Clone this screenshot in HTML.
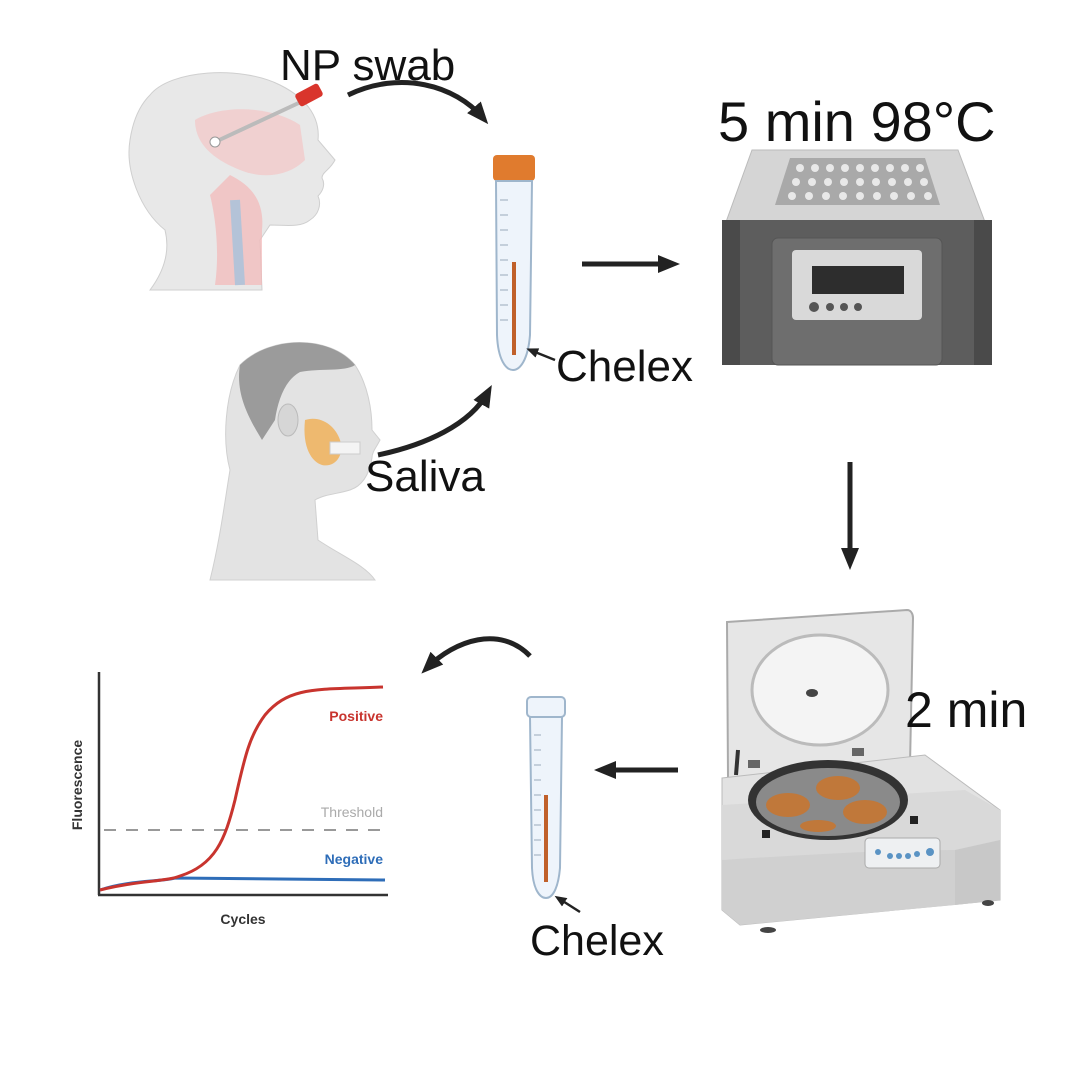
<!DOCTYPE html>
<html><head><meta charset="utf-8"><style>
html,body{margin:0;padding:0;background:#fff}
svg{display:block}
text{font-family:"Liberation Sans",Arial,sans-serif}
</style></head><body>
<svg width="1070" height="1070" viewBox="0 0 1070 1070" xmlns="http://www.w3.org/2000/svg">
<defs>
<marker id="ah" markerWidth="22" markerHeight="22" refX="14" refY="11" orient="auto" markerUnits="userSpaceOnUse" viewBox="0 0 22 22">
<path d="M0,2 L22,11 L0,20 z" fill="#222"/></marker>
<marker id="ahs" markerWidth="12" markerHeight="12" refX="8" refY="6" orient="auto" markerUnits="userSpaceOnUse" viewBox="0 0 12 12">
<path d="M0,1 L12,6 L0,11 z" fill="#222"/></marker>
</defs>
<rect width="1070" height="1070" fill="#fff"/>

<!-- Head 1 (NP swab) -->
<g>
<path d="M150,95 C170,70 240,65 280,85 C310,100 320,120 318,140 L335,160 C330,170 322,172 322,178 C326,185 322,192 318,196 C322,205 318,215 310,220 C300,228 285,225 270,225 L260,240 L262,290 L150,290 C165,270 170,250 165,230 C140,210 125,170 130,140 C133,120 140,105 150,95 Z" fill="#e8e8e8" stroke="#cfcfcf"/>
<path d="M195,120 C220,105 270,105 300,125 L305,160 C290,175 265,180 240,170 C215,160 195,145 195,120 Z" fill="#f1c9c9" opacity="0.8"/>
<path d="M230,175 C250,185 265,200 262,230 L262,285 L215,285 C220,250 215,215 210,195 Z" fill="#f3b8b8" opacity="0.7"/>
<path d="M235,200 L240,285" stroke="#9cc3e0" stroke-width="10" opacity="0.7"/>
<line x1="215" y1="142" x2="305" y2="100" stroke="#bbb" stroke-width="4"/>
<rect x="296" y="88" width="26" height="14" rx="3" transform="rotate(-28 309 95)" fill="#d9352c"/>
<circle cx="215" cy="142" r="5" fill="#fff" stroke="#999"/>
</g>
<text x="280" y="80" font-size="44" fill="#111">NP swab</text>

<path d="M348,95 C400,70 455,85 483,118" fill="none" stroke="#222" stroke-width="5" marker-end="url(#ah)"/>

<!-- Tube 1 -->
<g>
<rect x="493" y="155" width="42" height="26" rx="4" fill="#e07b2e"/>
<path d="M496,181 L532,181 L530,335 C528,360 520,370 513,370 C506,370 498,360 497,335 Z" fill="#eef4fb" stroke="#9fb6cc" stroke-width="2"/>
<line x1="514" y1="262" x2="514" y2="355" stroke="#c0602a" stroke-width="4"/>
<g stroke="#9ab" stroke-width="1">
<line x1="500" y1="200" x2="508" y2="200"/><line x1="500" y1="215" x2="508" y2="215"/><line x1="500" y1="230" x2="508" y2="230"/><line x1="500" y1="245" x2="508" y2="245"/><line x1="500" y1="260" x2="508" y2="260"/><line x1="500" y1="275" x2="508" y2="275"/><line x1="500" y1="290" x2="508" y2="290"/><line x1="500" y1="305" x2="508" y2="305"/><line x1="500" y1="320" x2="508" y2="320"/></g>
</g>
<path d="M555,360 L530,350" stroke="#222" stroke-width="2.5" marker-end="url(#ahs)"/>
<text x="556" y="381" font-size="44" fill="#111">Chelex</text>

<line x1="582" y1="264" x2="672" y2="264" stroke="#222" stroke-width="5" marker-end="url(#ah)"/>

<!-- Heat block -->
<text x="718" y="141" font-size="56" fill="#111">5 min 98°C</text>
<g>
<path d="M752,150 L958,150 L985,222 L726,222 Z" fill="#d5d5d5" stroke="#bbb"/>
<path d="M790,158 L925,158 L940,205 L775,205 Z" fill="#a9a9a9"/>
<g fill="#e8e8e8">
<circle cx="800" cy="168" r="4"/><circle cx="815" cy="168" r="4"/><circle cx="830" cy="168" r="4"/><circle cx="845" cy="168" r="4"/><circle cx="860" cy="168" r="4"/><circle cx="875" cy="168" r="4"/><circle cx="890" cy="168" r="4"/><circle cx="905" cy="168" r="4"/><circle cx="920" cy="168" r="4"/>
<circle cx="796" cy="182" r="4"/><circle cx="812" cy="182" r="4"/><circle cx="828" cy="182" r="4"/><circle cx="844" cy="182" r="4"/><circle cx="860" cy="182" r="4"/><circle cx="876" cy="182" r="4"/><circle cx="892" cy="182" r="4"/><circle cx="908" cy="182" r="4"/><circle cx="924" cy="182" r="4"/>
<circle cx="792" cy="196" r="4"/><circle cx="809" cy="196" r="4"/><circle cx="826" cy="196" r="4"/><circle cx="843" cy="196" r="4"/><circle cx="860" cy="196" r="4"/><circle cx="877" cy="196" r="4"/><circle cx="894" cy="196" r="4"/><circle cx="911" cy="196" r="4"/><circle cx="928" cy="196" r="4"/></g>
<rect x="722" y="220" width="270" height="145" rx="6" fill="#5d5d5d"/>
<rect x="722" y="220" width="18" height="145" fill="#4a4a4a"/>
<rect x="974" y="220" width="18" height="145" fill="#4a4a4a"/>
<rect x="772" y="238" width="170" height="127" rx="6" fill="#6e6e6e" stroke="#555"/>
<rect x="792" y="250" width="130" height="70" rx="4" fill="#d9d9d9"/>
<rect x="812" y="266" width="92" height="28" fill="#2d2d2d"/>
<circle cx="814" cy="307" r="5" fill="#555"/><circle cx="830" cy="307" r="4" fill="#555"/><circle cx="844" cy="307" r="4" fill="#555"/><circle cx="858" cy="307" r="4" fill="#555"/>
</g>

<!-- Head 2 (Saliva) -->
<g>
<path d="M240,365 C270,335 330,335 355,365 C368,385 372,410 372,430 L380,440 C376,448 372,452 372,458 C370,470 365,485 350,490 C338,494 325,494 315,500 L318,540 C340,555 365,565 375,580 L210,580 C220,540 225,500 230,470 C222,440 225,395 240,365 Z" fill="#e3e3e3" stroke="#d0d0d0"/>
<path d="M240,365 C270,335 330,335 355,365 C345,372 320,368 300,372 C285,380 278,400 275,420 L262,440 C250,420 235,395 240,365 Z" fill="#9b9b9b"/>
<ellipse cx="288" cy="420" rx="10" ry="16" fill="#d6d6d6" stroke="#bbb"/>
<path d="M305,420 C320,415 335,425 340,440 C345,455 335,468 322,465 C312,462 302,448 305,420 Z" fill="#f0b15a" opacity="0.85"/>
<rect x="330" y="442" width="30" height="12" fill="#f4f4f4" stroke="#ccc"/>
</g>
<text x="365" y="491" font-size="44" fill="#111">Saliva</text>
<path d="M378,455 C425,445 470,425 488,392" fill="none" stroke="#222" stroke-width="5" marker-end="url(#ah)"/>

<line x1="850" y1="462" x2="850" y2="562" stroke="#222" stroke-width="5" marker-end="url(#ah)"/>

<!-- Centrifuge -->
<g>
<path d="M727,622 L907,610 C911,610 913,614 913,618 L910,765 L728,778 Z" fill="#e6e6e6" stroke="#aaa" stroke-width="2"/>
<ellipse cx="820" cy="690" rx="68" ry="55" fill="#f4f4f4" stroke="#bbb" stroke-width="3"/>
<ellipse cx="812" cy="693" rx="6" ry="4" fill="#444"/>
<path d="M722,778 L925,755 L1000,810 L1000,900 L740,925 L722,910 Z" fill="#e2e2e2" stroke="#bbb"/>
<path d="M722,805 L965,790 L1000,810 L1000,900 L955,905 L955,850 L722,860 Z" fill="#d9d9d9"/>
<path d="M722,860 C800,855 880,850 955,850 L955,905 L740,925 L722,910 Z" fill="#d0d0d0"/>
<path d="M955,850 L1000,840 L1000,900 L955,905 Z" fill="#c8c8c8"/>
<ellipse cx="828" cy="800" rx="80" ry="40" fill="#333"/>
<ellipse cx="828" cy="802" rx="72" ry="34" fill="#8a8a8a"/>
<g fill="#c0783a">
<ellipse cx="788" cy="805" rx="22" ry="12"/><ellipse cx="838" cy="788" rx="22" ry="12"/><ellipse cx="865" cy="812" rx="22" ry="12"/><ellipse cx="818" cy="826" rx="18" ry="6"/></g>
<rect x="762" y="830" width="8" height="8" fill="#222"/>
<rect x="910" y="816" width="8" height="8" fill="#222"/>
<rect x="865" y="838" width="75" height="30" rx="4" fill="#eef0f2" stroke="#aaa"/>
<g fill="#5a93c4"><circle cx="878" cy="852" r="3"/><circle cx="890" cy="856" r="3"/><circle cx="899" cy="856" r="3"/><circle cx="908" cy="856" r="3"/><circle cx="917" cy="854" r="3"/><circle cx="930" cy="852" r="4"/></g>
<line x1="738" y1="750" x2="736" y2="775" stroke="#333" stroke-width="4"/>
<rect x="748" y="760" width="12" height="8" fill="#666"/><rect x="852" y="748" width="12" height="8" fill="#666"/>
<ellipse cx="768" cy="930" rx="8" ry="3" fill="#444"/><ellipse cx="988" cy="903" rx="6" ry="3" fill="#444"/>
</g>
<text x="905" y="727" font-size="50" fill="#111">2 min</text>

<line x1="678" y1="770" x2="602" y2="770" stroke="#222" stroke-width="5" marker-end="url(#ah)"/>

<!-- Tube 2 -->
<g>
<rect x="527" y="697" width="38" height="20" rx="4" fill="#eef4fb" stroke="#9fb6cc" stroke-width="2"/>
<path d="M530,717 L562,717 L560,868 C558,890 552,898 546,898 C540,898 533,890 532,868 Z" fill="#eef4fb" stroke="#9fb6cc" stroke-width="2"/>
<line x1="546" y1="795" x2="546" y2="882" stroke="#c0602a" stroke-width="4"/>
<g stroke="#9ab" stroke-width="1">
<line x1="534" y1="735" x2="541" y2="735"/><line x1="534" y1="750" x2="541" y2="750"/><line x1="534" y1="765" x2="541" y2="765"/><line x1="534" y1="780" x2="541" y2="780"/><line x1="534" y1="795" x2="541" y2="795"/><line x1="534" y1="810" x2="541" y2="810"/><line x1="534" y1="825" x2="541" y2="825"/><line x1="534" y1="840" x2="541" y2="840"/><line x1="534" y1="855" x2="541" y2="855"/></g>
</g>
<path d="M580,912 L558,898" stroke="#222" stroke-width="2.5" marker-end="url(#ahs)"/>
<text x="530" y="955" font-size="43" fill="#111">Chelex</text>

<path d="M530,656 C500,625 455,640 427,668" fill="none" stroke="#222" stroke-width="5" marker-end="url(#ah)"/>

<!-- Chart -->
<g>
<line x1="99" y1="672" x2="99" y2="895" stroke="#333" stroke-width="2.5"/>
<line x1="98" y1="895" x2="388" y2="895" stroke="#333" stroke-width="2.5"/>
<line x1="104" y1="830" x2="385" y2="830" stroke="#999" stroke-width="2" stroke-dasharray="12,10"/>
<path d="M100,890 C130,880 160,882 175,878 L385,880" fill="none" stroke="#2e6db8" stroke-width="3"/>
<path d="M100,890 C140,880 165,882 180,876 C215,865 225,840 235,800 C245,755 250,735 265,715 C290,685 320,690 383,687" fill="none" stroke="#c8342e" stroke-width="3"/>
<text x="383" y="721" font-size="14" font-weight="bold" fill="#c8342e" text-anchor="end">Positive</text>
<text x="383" y="817" font-size="14" fill="#aaa" text-anchor="end">Threshold</text>
<text x="383" y="864" font-size="14" font-weight="bold" fill="#2e6db8" text-anchor="end">Negative</text>
<text x="243" y="924" font-size="14" font-weight="bold" fill="#333" text-anchor="middle">Cycles</text>
<text x="0" y="0" font-size="14" font-weight="bold" fill="#333" text-anchor="middle" transform="translate(82,785) rotate(-90)">Fluorescence</text>
</g>
</svg>
</body></html>
